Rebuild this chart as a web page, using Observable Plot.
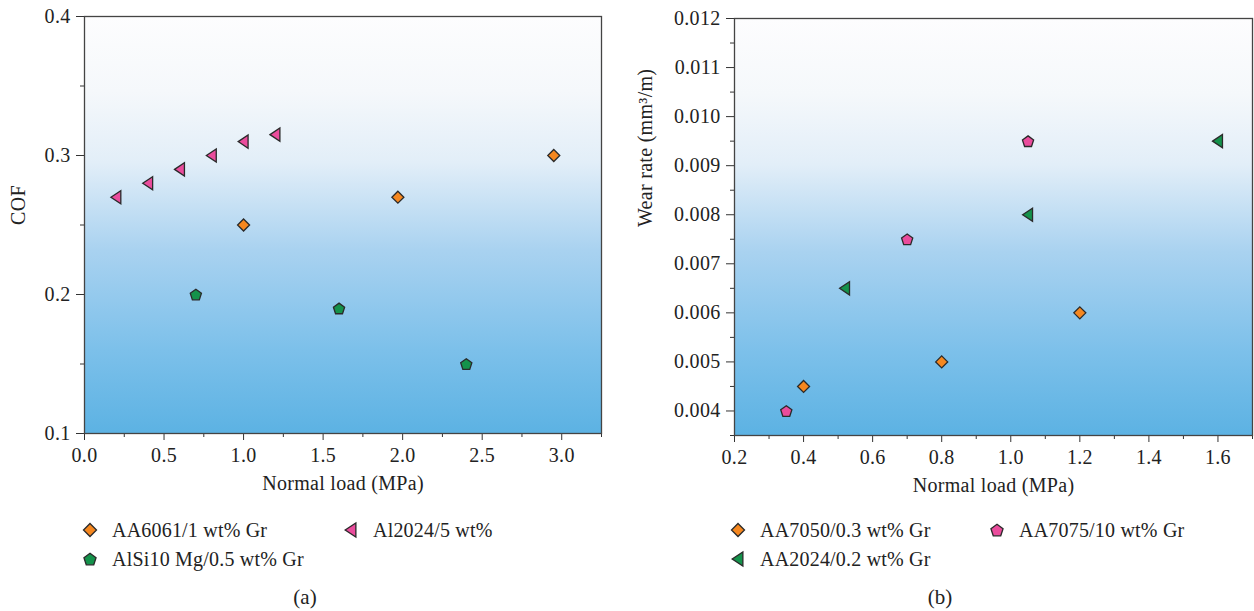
<!DOCTYPE html>
<html><head><meta charset="utf-8">
<script src="https://cdn.jsdelivr.net/npm/d3@7"></script>
<script src="https://cdn.jsdelivr.net/npm/@observablehq/plot@0.6"></script>
<style>
body{margin:0;background:#fff;font-family:"Liberation Serif",serif;}
#wrap{position:relative;width:1254px;height:611px;overflow:hidden;}
.panel{position:absolute;top:0;}
.leg{position:absolute;font-size:20px;color:#222;white-space:nowrap;line-height:1;letter-spacing:0.2px;}
.leg svg{position:absolute;overflow:visible;}
.cap{position:absolute;font-size:21px;color:#222;transform:translate(-50%,-50%);}
</style></head><body><div id="wrap"></div>
<script>
// ---- Panel (a): COF vs normal load ----
const aSeries = ["AA6061/1 wt% Gr", "Al2024/5 wt%", "AlSi10 Mg/0.5 wt% Gr"];
const aLoad_AA6061 = [1.0, 1.97, 2.95];
const aCOF_AA6061 = [0.25, 0.27, 0.30];
const aLoad_Al2024 = [0.2, 0.4, 0.6, 0.8, 1.0, 1.2];
const aCOF_Al2024 = [0.27, 0.28, 0.29, 0.30, 0.31, 0.315];
const aLoad_AlSi10 = [0.7, 1.6, 2.4];
const aCOF_AlSi10 = [0.20, 0.19, 0.15];
const aXTicks = [0, 0.5, 1.0, 1.5, 2.0, 2.5, 3.0];
const aYTicks = [0.1, 0.2, 0.3, 0.4];

// ---- Panel (b): wear rate vs normal load ----
const bSeries = ["AA7050/0.3 wt% Gr", "AA7075/10 wt% Gr", "AA2024/0.2 wt% Gr"];
const bLoad_AA7050 = [0.4, 0.8, 1.2];
const bWear_AA7050 = [0.0045, 0.0050, 0.0060];
const bLoad_AA7075 = [0.35, 0.7, 1.05];
const bWear_AA7075 = [0.0040, 0.0075, 0.0095];
const bLoad_AA2024 = [0.52, 1.05, 1.6];
const bWear_AA2024 = [0.0065, 0.0080, 0.0095];
const bXTicks = [0.2, 0.4, 0.6, 0.8, 1.0, 1.2, 1.4, 1.6];
const bYTicks = [0.004, 0.005, 0.006, 0.007, 0.008, 0.009, 0.010, 0.011, 0.012];

const ORANGE = "#f5871f", PINK = "#ea4c9c", GREEN = "#14924b", EDGE = "#2a2a2a";

// custom symbols
const symDiamond = {draw(ctx, size){ const r = Math.sqrt(size/Math.PI); ctx.moveTo(0,-r); ctx.lineTo(r,0); ctx.lineTo(0,r); ctx.lineTo(-r,0); ctx.closePath(); }};
const symLeftTri = {draw(ctx, size){ const r = Math.sqrt(size/Math.PI); ctx.moveTo(-0.9*r,0); ctx.lineTo(0.75*r,-1.1*r); ctx.lineTo(0.75*r,1.1*r); ctx.closePath(); }};
const symPentagon = {draw(ctx, size){ const r = Math.sqrt(size/Math.PI)*0.98; for(let i=0;i<5;i++){ const a = -Math.PI/2 + i*2*Math.PI/5; const x = r*Math.cos(a), y = r*Math.sin(a) + 0.1*r; i?ctx.lineTo(x,y):ctx.moveTo(x,y);} ctx.closePath(); }};

function rows(xs, ys){ return xs.map((x,i)=>({x, y: ys[i]})); }

function gradDefs(id){
  return () => {
    const g = d3.create("svg:defs");
    const lg = g.append("linearGradient").attr("id", id).attr("x1",0).attr("y1",0).attr("x2",0).attr("y2",1);
    [[0,"#fdfdfe"],[0.18,"#f5f8fb"],[0.35,"#e2eef8"],[0.56,"#a9d2f0"],[0.8,"#7cc0ea"],[1,"#5cb2e3"]]
      .forEach(([o,c]) => lg.append("stop").attr("offset", o).attr("stop-color", c));
    return g.node();
  };
}

function range(a, b, s){ const out=[]; for(let v=a; v<=b+1e-9; v+=s) out.push(+v.toFixed(6)); return out; }

const common = {fontFamily:"Liberation Serif, serif", fontSize:"20px", color:"#222", background:"transparent", overflow:"visible", letterSpacing:"0.3px"};

const plotA = Plot.plot({
  width: 627, height: 505,
  marginLeft: 84, marginRight: 26, marginTop: 16, marginBottom: 72,
  style: common,
  x: {domain: [0, 3.25], label: null},
  y: {domain: [0.1, 0.4], label: null},
  marks: [
    gradDefs("gA"),
    Plot.frame({fill: "url(#gA)", stroke: null}),
    Plot.axisX(range(0.25, 3.25, 0.5), {tickSize: 4, tickFormat: () => "", stroke: "#333"}),
    Plot.axisX(aXTicks, {tickSize: 7, tickPadding: 7, tickFormat: d => d.toFixed(1), stroke: "#333", fill: "#222"}),
    Plot.axisY([0.15, 0.25, 0.35], {tickSize: 4, tickFormat: () => "", stroke: "#333"}),
    Plot.axisY(aYTicks, {tickSize: 8, tickPadding: 6, tickFormat: d => d.toFixed(1), stroke: "#333", fill: "#222"}),
    Plot.frame({stroke: "#444", strokeWidth: 1.3}),
    Plot.dot(rows(aLoad_Al2024, aCOF_Al2024), {x:"x", y:"y", symbol: symLeftTri, r: 6, fill: PINK, stroke: EDGE, strokeWidth: 1.3}),
    Plot.dot(rows(aLoad_AA6061, aCOF_AA6061), {x:"x", y:"y", symbol: symDiamond, r: 6, fill: ORANGE, stroke: EDGE, strokeWidth: 1.3}),
    Plot.dot(rows(aLoad_AlSi10, aCOF_AlSi10), {x:"x", y:"y", symbol: symPentagon, r: 6, fill: GREEN, stroke: EDGE, strokeWidth: 1.3}),
    Plot.text(["COF"], {frameAnchor: "left", dx: -66, rotate: -90, fontSize: 20, fill: "#222"}),
    Plot.text(["Normal load (MPa)"], {frameAnchor: "bottom", dy: 56, fontSize: 20, fill: "#222"})
  ]
});

const plotB = Plot.plot({
  width: 627, height: 505,
  marginLeft: 107, marginRight: 2, marginTop: 18, marginBottom: 70,
  style: common,
  x: {domain: [0.2, 1.7], label: null},
  y: {domain: [0.0035, 0.012], label: null},
  marks: [
    gradDefs("gB"),
    Plot.frame({fill: "url(#gB)", stroke: null}),
    Plot.axisX(range(0.3, 1.7, 0.2), {tickSize: 4, tickFormat: () => "", stroke: "#333"}),
    Plot.axisX(bXTicks, {tickSize: 7, tickPadding: 7, tickFormat: d => d.toFixed(1), stroke: "#333", fill: "#222"}),
    Plot.axisY(range(0.0035, 0.0115, 0.001), {tickSize: 4, tickFormat: () => "", stroke: "#333"}),
    Plot.axisY(bYTicks, {tickSize: 8, tickPadding: 6, tickFormat: d => d.toFixed(3), stroke: "#333", fill: "#222"}),
    Plot.frame({stroke: "#444", strokeWidth: 1.3}),
    Plot.dot(rows(bLoad_AA7050, bWear_AA7050), {x:"x", y:"y", symbol: symDiamond, r: 6, fill: ORANGE, stroke: EDGE, strokeWidth: 1.3}),
    Plot.dot(rows(bLoad_AA7075, bWear_AA7075), {x:"x", y:"y", symbol: symPentagon, r: 6, fill: PINK, stroke: EDGE, strokeWidth: 1.3}),
    Plot.dot(rows(bLoad_AA2024, bWear_AA2024), {x:"x", y:"y", symbol: symLeftTri, r: 6, fill: GREEN, stroke: EDGE, strokeWidth: 1.3}),
    Plot.text(["Wear rate (mm³/m)"], {frameAnchor: "left", dx: -89, rotate: -90, fontSize: 20, fill: "#222"}),
    Plot.text(["Normal load (MPa)"], {frameAnchor: "bottom", dy: 56, fontSize: 20, fill: "#222"})
  ]
});

const wrap = d3.select("#wrap");
wrap.append("div").attr("class","panel").style("left","0px").node().appendChild(plotA);
wrap.append("div").attr("class","panel").style("left","627px").node().appendChild(plotB);

function legendItem(x, y, label, sym, fill){
  const d = wrap.append("div").attr("class","leg").style("left", x+"px").style("top", (y-10)+"px");
  const p = d3.path(); sym.draw(p, 6.5*6.5*Math.PI);
  const s = d.append("svg").attr("width",22).attr("height",20).style("left","-22px").style("top","0px");
  s.append("path").attr("d", p.toString()).attr("transform","translate(0,10)").attr("fill", fill).attr("stroke", EDGE).attr("stroke-width",1.3);
  d.append("span").text(label);
}
legendItem(112, 530, aSeries[0], symDiamond, ORANGE);
legendItem(373, 530, aSeries[1], symLeftTri, PINK);
legendItem(112, 559, aSeries[2], symPentagon, GREEN);
legendItem(760, 530, bSeries[0], symDiamond, ORANGE);
legendItem(1019, 530, bSeries[1], symPentagon, PINK);
legendItem(760, 559, bSeries[2], symLeftTri, GREEN);

wrap.append("div").attr("class","cap").style("left","305px").style("top","597px").text("(a)");
wrap.append("div").attr("class","cap").style("left","940px").style("top","597px").text("(b)");
</script>
</body></html>
